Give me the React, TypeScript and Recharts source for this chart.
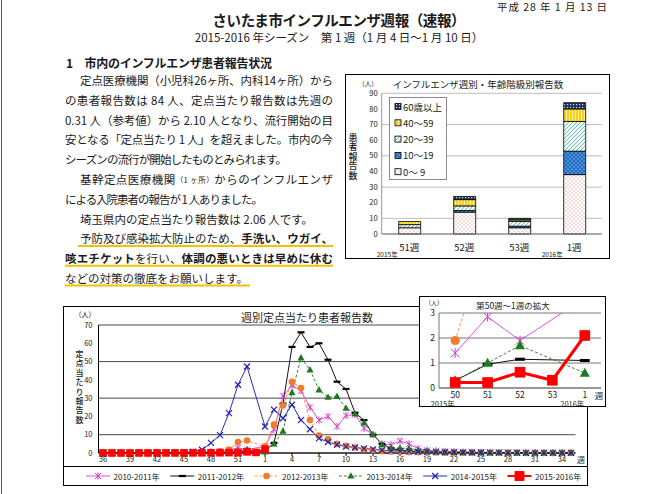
import React from "react";
import { LineChart, Line, XAxis, YAxis, CartesianGrid, BarChart, Bar } from "recharts";

const FONT = '"Noto Sans CJK JP", "Noto Sans", sans-serif';

// 36週〜翌年35週
const weeks = [
  "36", "37", "38", "39", "40", "41", "42", "43", "44", "45", "46", "47", "48", "49", "50", "51", "52", "53",
  "1", "2", "3", "4", "5", "6", "7", "8", "9", "10", "11", "12", "13", "14", "15", "16", "17", "18", "19", "20",
  "21", "22", "23", "24", "25", "26", "27", "28", "29", "30", "31", "32", "33", "34", "35",
];

const season1011 = [
  0.1, 0.1, 0.1, 0.1, 0.1, 0.1, 0.1, 0.2, 0.2, 0.2, 0.3, 0.4, 0.6, 0.9, 1.4, 2.85, 1.9, null,
  3.6, 13, 31, 37, 34, 25, 18, 20, 14.5, 20.5, 21, 13.5, 10, 5, 4.5, 6.5, 5, 2.5, 1.5, 1.2,
  0.9, 0.7, 0.5, 0.4, 0.3, 0.3, 0.2, 0.2, 0.2, 0.1, 0.1, 0.1, 0.1, 0.1, 0.1,
];
const season1112 = [
  0.1, 0.1, 0.1, 0.1, 0.1, 0.1, 0.1, 0.1, 0.1, 0.1, 0.1, 0.1, 0.2, 0.2, 0.3, 0.95, 1.15, null,
  1.1, 5.5, 27, 58, 66, 58, 60, 51, 39, 35, 22, 18, 10, 5, 2.5, 1.5, 1, 0.8, 0.6, 0.5,
  0.4, 0.3, 0.3, 0.2, 0.2, 0.2, 0.1, 0.1, 0.1, 0.1, 0.1, 0.1, 0.1, 0.1, 0.1,
];
const season1213 = [
  0.1, 0.1, 0.1, 0.1, 0.1, 0.1, 0.1, 0.1, 0.1, 0.1, 0.1, 0.3, 0.5, 0.9, 1.9, 6, 6.8, null,
  3.5, 15.5, 26, 39, 35.5, 18, 9.5, 7.5, 5, 4, 3, 2, 1.5, 1, 0.8, 0.6, 0.5, 0.4, 0.3, 0.3,
  0.2, 0.2, 0.2, 0.2, 0.2, 0.1, 0.1, 0.1, 0.1, 0.1, 0.1, 0.1, 0.1, 0.1, 0.1,
];
const season1314 = [
  0.1, 0.1, 0.1, 0.1, 0.1, 0.1, 0.1, 0.1, 0.1, 0.1, 0.1, 0.1, 0.1, 0.2, 0.3, 1.0, 1.7, null,
  0.6, 5, 12, 33, 52, 45.5, 34.5, 30.5, 31, 24.5, 21.5, 16.5, 10, 4.5, 2.7, 2.7, 2.5, 1.5, 1, 0.7,
  0.5, 0.4, 0.3, 0.3, 0.2, 0.2, 0.2, 0.1, 0.1, 0.1, 0.1, 0.1, 0.1, 0.1, 0.1,
];
const season1415 = [
  0.1, 0.1, 0.1, 0.1, 0.1, 0.2, 0.2, 0.2, 0.3, 0.4, 0.7, 1.8, 5.5, 9.8, 21.8, 37.3, 47.3, null,
  14.5, 23.7, 19, 26.4, 18, 13, 8, 6, 4.5, 3.5, 3, 2.5, 2, 1.5, 1.2, 1, 0.9, 0.7, 0.6, 0.5,
  0.4, 0.4, 0.3, 0.3, 0.3, 0.2, 0.2, 0.2, 0.2, 0.1, 0.1, 0.1, 0.1, 0.1, 0.1,
];
const season1516 = [
  0, 0, 0, 0, 0.03, 0, 0.03, 0.03, 0.03, 0.05, 0.05, 0.08, 0.1, 0.13, 0.22, 0.22, 0.63, 0.31,
  2.1, null, null, null, null, null, null, null, null, null, null, null, null, null, null, null, null, null, null, null,
  null, null, null, null, null, null, null, null, null, null, null, null, null, null, null,
];

const mainTicks = [0, 10, 20, 30, 40, 50, 60, 70];
const insetTicks = [0, 1, 2, 3];

// 年齢階級別
const barWeeks = ["51週", "52週", "53週", "1週"];
const barYears = ["2015年", "", "", "2016年"];
const age0to9 = [4, 14, 4, 38];
const age10to19 = [0, 1, 1, 15];
const age20to39 = [2, 3, 3, 19];
const age40to59 = [2, 4, 1, 8];
const age60plus = [0, 2, 1, 4];
const barTicks = [0, 10, 20, 30, 40, 50, 60, 70, 80, 90];

const seriesList = [
  { key: "s1011", name: "2010-2011年", values: season1011, color: "#dd55dd", width: 1, dash: "", marker: "star" },
  { key: "s1112", name: "2011-2012年", values: season1112, color: "#111111", width: 1, dash: "", marker: "dash" },
  { key: "s1213", name: "2012-2013年", values: season1213, color: "#f4a060", width: 1.1, dash: "3 2", marker: "circle" },
  { key: "s1314", name: "2013-2014年", values: season1314, color: "#3a8a3a", width: 1, dash: "3 2", marker: "tri" },
  { key: "s1415", name: "2014-2015年", values: season1415, color: "#2b2bb5", width: 1, dash: "", marker: "x" },
  { key: "s1516", name: "2015-2016年", values: season1516, color: "#ff0000", width: 2, dash: "", marker: "square" },
];

const ageList = [
  { key: "a0", name: "0～ 9", values: age0to9, fill: "url(#pAge0)" },
  { key: "a10", name: "10～19", values: age10to19, fill: "url(#pAge10)" },
  { key: "a20", name: "20～39", values: age20to39, fill: "url(#pAge20)" },
  { key: "a40", name: "40～59", values: age40to59, fill: "url(#pAge40)" },
  { key: "a60", name: "60歳以上", values: age60plus, fill: "url(#pAge60)" },
];

function Marker({ kind, cx, cy, scale = 1 }: { kind: string; cx: number; cy: number; scale?: number }) {
  const r = 3 * scale;
  if (kind === "star")
    return (
      <g stroke="#cc3ccc" strokeWidth={1}>
        <line x1={cx - r} y1={cy - r} x2={cx + r} y2={cy + r} />
        <line x1={cx - r} y1={cy + r} x2={cx + r} y2={cy - r} />
        <line x1={cx} y1={cy - r - 0.6} x2={cx} y2={cy + r + 0.6} />
      </g>
    );
  if (kind === "dash")
    return <rect x={cx - 3.5 * scale} y={cy - 1.1 * scale} width={7 * scale} height={2.2 * scale} fill="#000" />;
  if (kind === "circle") return <circle cx={cx} cy={cy} r={3.3 * scale} fill="#f07a2e" />;
  if (kind === "tri")
    return (
      <polygon
        points={`${cx},${cy - 3.8 * scale} ${cx - 3.6 * scale},${cy + 2.6 * scale} ${cx + 3.6 * scale},${cy + 2.6 * scale}`}
        fill="#1e7a1e"
      />
    );
  if (kind === "x")
    return (
      <g stroke="#2424b0" strokeWidth={1.2}>
        <line x1={cx - r} y1={cy - r} x2={cx + r} y2={cy + r} />
        <line x1={cx - r} y1={cy + r} x2={cx + r} y2={cy - r} />
      </g>
    );
  const h = 3.8 * scale;
  return <rect x={cx - h} y={cy - h} width={2 * h} height={2 * h} fill="#ff0000" />;
}

const dotFor = (kind: string, scale: number) => (p: any) => {
  if (p.cx == null || p.cy == null || p.value == null) return <g key={`n${p.index}`} />;
  return <Marker key={`m${p.index}`} kind={kind} cx={p.cx} cy={p.cy} scale={scale} />;
};

const patternDefs = (
  <defs>
    <pattern id="pAge0" width="4" height="4" patternUnits="userSpaceOnUse">
      <rect width="4" height="4" fill="#fff" />
      <circle cx="1" cy="1" r="0.6" fill="#e06a6a" />
      <circle cx="3" cy="3" r="0.6" fill="#e06a6a" />
    </pattern>
    <pattern id="pAge10" width="4" height="4" patternUnits="userSpaceOnUse">
      <rect width="4" height="4" fill="#1f6cc4" />
      <circle cx="1" cy="1" r="0.6" fill="#fff" />
      <circle cx="3" cy="3" r="0.6" fill="#fff" />
    </pattern>
    <pattern id="pAge20" width="4" height="4" patternUnits="userSpaceOnUse">
      <rect width="4" height="4" fill="#f0fbf7" />
      <path d="M-1,1 l2,-2 M0,4 l4,-4 M3,5 l2,-2" stroke="#5fb8a8" strokeWidth="0.9" />
    </pattern>
    <pattern id="pAge40" width="3" height="3" patternUnits="userSpaceOnUse">
      <rect width="3" height="3" fill="#f7d21c" />
      <rect x="2" width="0.8" height="3" fill="#fff6c0" />
    </pattern>
    <pattern id="pAge60" width="3" height="3" patternUnits="userSpaceOnUse">
      <rect width="3" height="3" fill="#24305e" />
      <rect width="1.2" height="1.2" fill="#cfd6ea" />
    </pattern>
  </defs>
);

const bodyLines: { x: number; end: number; segs: string[][]; under?: number }[] = [
  { x: 80, end: 333, segs: [["定点医療機関（小児科26ヶ所、内科14ヶ所）から"]] },
  { x: 65, end: 333, segs: [["の患者報告数は 84 人、定点当たり報告数は先週の"]] },
  { x: 65, end: 333, segs: [["0.31 人（参考値）から 2.10 人となり、流行開始の目"]] },
  { x: 65, end: 333, segs: [["安となる「定点当たり 1 人」を超えました。市内の今"]] },
  { x: 65, end: 287, segs: [["シーズンの流行が開始したものとみられます。"]] },
  { x: 80, end: 333, segs: [["基幹定点医療機関"], ["（1 ヶ所）", "small"], ["からのインフルエンザ"]] },
  { x: 65, end: 263, segs: [["による入院患者の報告が 1 人ありました。"]] },
  { x: 80, end: 313, segs: [["埼玉県内の定点当たり報告数は 2.06 人です。"]] },
  { x: 80, end: 333, segs: [["予防及び感染拡大防止のため、"], ["手洗い、ウガイ、", "bold"]], under: 78 },
  { x: 65, end: 333, segs: [["咳エチケット", "bold"], ["を行い、"], ["体調の悪いときは早めに休む", "bold"]], under: 65 },
  { x: 65, end: 248, segs: [["などの対策の徹底をお願いします。"]], under: 65 },
];

const BarTick = (props: any) => {
  const { x, y, payload, index } = props;
  const yr = barYears[index];
  return (
    <g fontFamily={FONT}>
      <text x={x} y={y + 16.5} textAnchor="middle" fontSize={9.5} fill="#222">{payload.value}</text>
      {yr ? <text x={x - 22} y={y + 23} textAnchor="middle" fontSize={6.5} fill="#222">{yr}</text> : null}
    </g>
  );
};

const InsetTick = (props: any) => {
  const { x, y, payload, index, visibleTicksCount } = props;
  const yr = index === 0 ? "2015年" : index === (visibleTicksCount ?? 5) - 1 ? "2016年" : "";
  return (
    <g fontFamily={FONT}>
      <text x={x} y={y + 9.5} textAnchor="middle" fontSize={8.5} fill="#222">{payload.value}</text>
      {yr ? <text x={x - 12.5} y={y + 18.5} textAnchor="middle" fontSize={7.5} fill="#222">{yr}</text> : null}
    </g>
  );
};

// 縦書きラベル
const VLabel = ({ text, left, top, size, spacing, weight }: { text: string; left: number; top: number; size: number; spacing: number; weight?: number }) => (
  <div
    style={{
      position: "absolute",
      left,
      top,
      writingMode: "vertical-rl",
      fontSize: size,
      lineHeight: 1,
      letterSpacing: spacing,
      fontWeight: weight ?? 400,
      color: "#1a1a1a",
      whiteSpace: "nowrap",
    }}
  >
    {text}
  </div>
);

export default function App() {
  const lineRows = weeks.map((w, i) => {
    const row: any = { week: w };
    seriesList.forEach((s) => (row[s.key] = s.values[i]));
    return row;
  });
  const insetRows = lineRows.slice(weeks.indexOf("50"), weeks.indexOf("1") + 1);
  const barRows = barWeeks.map((w, i) => {
    const row: any = { week: w };
    ageList.forEach((a) => (row[a.key] = a.values[i]));
    return row;
  });
  const lineY = (i: number) => 80 + i * 19.8;

  return (
    <div style={{ position: "absolute", left: 0, top: 0, width: 670, height: 494, background: "#fff", overflow: "hidden", fontFamily: FONT }}>
      {/* 本文 */}
      <svg width={670} height={494} style={{ position: "absolute", left: 0, top: 0 }} fontFamily={FONT} fill="#1a1a1a">
        <line x1={1.5} y1={0} x2={1.5} y2={494} stroke="#555" />
        <text x={497} y={6} dominantBaseline="central" fontSize={10.5} textLength={110} lengthAdjust="spacing">平成 28 年 1 月 13 日</text>
        <text x={339} y={19} dominantBaseline="central" textAnchor="middle" fontSize={14.5} fontWeight="bold" textLength={253} lengthAdjust="spacing">さいたま市インフルエンザ週報（速報）</text>
        <text x={339} y={37} dominantBaseline="central" textAnchor="middle" fontSize={11.5}>2015-2016 年シーズン　第 1 週（1 月 4 日～1 月 10 日）</text>
        <text x={66} y={62} dominantBaseline="central" fontSize={12} fontWeight="bold" textLength={206} lengthAdjust="spacing">1　市内のインフルエンザ患者報告状況</text>
        {bodyLines.map((ln, i) => (
          <g key={i}>
            {ln.under ? <line x1={ln.under} y1={lineY(i) + 7.5} x2={ln.end + (i === 10 ? 2 : 0)} y2={lineY(i) + 7.5} stroke="#f2c200" strokeWidth={2} /> : null}
            <text x={ln.x} y={lineY(i)} dominantBaseline="central" fontSize={11.5} textLength={ln.end - ln.x} lengthAdjust="spacing">
              {ln.segs.map((sg, j) => (
                <tspan key={j} fontWeight={sg[1] === "bold" ? "bold" : "normal"} fontSize={sg[1] === "small" ? 7.5 : 11.5}>{sg[0]}</tspan>
              ))}
            </text>
          </g>
        ))}
      </svg>

      {/* 年齢階級別報告数 */}
      <div style={{ position: "absolute", left: 345, top: 74, width: 265, height: 185, border: "1px solid #000", boxSizing: "border-box", background: "#fff" }} />
      <div style={{ position: "absolute", left: 345, top: 74 }}>
        <BarChart width={265} height={185} data={barRows} margin={{ top: 19.3, right: 8.3, bottom: 0, left: 6.7 }} barSize={22}>
          {patternDefs}
          <CartesianGrid vertical={false} stroke="#bdbdbd" />
          <XAxis dataKey="week" height={25} tick={<BarTick />} tickSize={0} tickMargin={0} stroke="#777" />
          <YAxis domain={[0, 90]} ticks={barTicks} width={30} tick={{ fontSize: 7.5, fill: "#222" }} tickLine={false} tickSize={2} tickMargin={2} stroke="#999" />
          <YAxis yAxisId="edge" orientation="right" width={0} tick={false} tickLine={false} stroke="#999" />
          {ageList.map((a) => (
            <Bar key={a.key} dataKey={a.key} name={a.name} stackId="age" fill={a.fill} stroke="#000" strokeWidth={0.8} isAnimationActive={false} />
          ))}
        </BarChart>
      </div>
      <div style={{ position: "absolute", left: 389, top: 97, width: 58, height: 83, border: "1px solid #8a8a8a", boxSizing: "border-box", background: "#fff" }}>
        <svg width={56} height={81} fontFamily={FONT}>
          {[...ageList].reverse().map((a, i) => (
            <g key={a.key}>
              <rect x={5} y={5.5 + i * 16.3} width={6} height={6} fill={a.fill} stroke="#000" strokeWidth={0.8} />
              <text x={13} y={8.5 + i * 16.3} dominantBaseline="central" fontSize={9.5} fill="#222">{a.name}</text>
            </g>
          ))}
        </svg>
      </div>

      {/* 週別定点当たり患者報告数 */}
      <div style={{ position: "absolute", left: 63, top: 306, width: 525, height: 180, border: "1px solid #000", boxSizing: "border-box", background: "#fff" }} />
      <div style={{ position: "absolute", left: 63, top: 466, width: 525, height: 20, borderTop: "1px solid #000", boxSizing: "border-box" }} />
      <div style={{ position: "absolute", left: 63, top: 306 }}>
        <LineChart width={525} height={160} data={lineRows} margin={{ top: 19, right: 12.5, bottom: 0, left: 10.5 }}>
          <CartesianGrid vertical={false} stroke="#4a4a4a" />
          <XAxis dataKey="week" interval={2} height={13} padding={{ left: 4.5, right: 4.5 }} tick={{ fontSize: 7.5, fill: "#222" }} tickSize={3} tickMargin={1} stroke="#000" />
          <YAxis domain={[0, 70]} ticks={mainTicks} width={25} tick={{ fontSize: 7.5, fill: "#222" }} tickLine={false} tickSize={4} tickMargin={2} stroke="#000" />
          <YAxis yAxisId="edge" orientation="right" width={0} tick={false} tickLine={false} stroke="#000" />
          {seriesList.map((s) => (
            <Line
              key={s.key}
              type="linear"
              dataKey={s.key}
              name={s.name}
              stroke={s.color}
              strokeWidth={s.width}
              strokeDasharray={s.dash || undefined}
              connectNulls
              dot={dotFor(s.marker, 1)}
              activeDot={false}
              isAnimationActive={false}
            />
          ))}
        </LineChart>
      </div>
      <svg width={525} height={20} style={{ position: "absolute", left: 63, top: 466 }} fontFamily={FONT}>
        {seriesList.map((s, i) => {
          const x0 = 23 + i * 84.3;
          return (
            <g key={s.key}>
              <line x1={x0} y1={10} x2={x0 + 24} y2={10} stroke={s.color} strokeWidth={s.width} strokeDasharray={s.dash || undefined} />
              <Marker kind={s.marker} cx={x0 + 12} cy={10} scale={s.marker === "square" ? 1.3 : 1} />
              <text x={x0 + 27.5} y={10} dominantBaseline="central" fontSize={8} fill="#222">{s.name}</text>
            </g>
          );
        })}
      </svg>

      {/* 第50週～1週の拡大 */}
      <div style={{ position: "absolute", left: 419, top: 296, width: 187, height: 111, border: "1px solid #000", boxSizing: "border-box", background: "#fff" }} />
      <div style={{ position: "absolute", left: 419, top: 296 }}>
        <LineChart width={187} height={111} data={insetRows} margin={{ top: 17, right: 5, bottom: 0, left: 6 }}>
          <CartesianGrid vertical={false} stroke="#777" />
          <XAxis dataKey="week" height={19} padding={{ left: 16.2, right: 16.2 }} tick={<InsetTick />} tickSize={0} tickMargin={0} stroke="#777" />
          <YAxis domain={[0, 3]} ticks={insetTicks} allowDataOverflow width={14} tick={{ fontSize: 8.5, fill: "#222" }} tickLine={false} tickSize={2} tickMargin={2} stroke="#777" />
          <YAxis yAxisId="edge" orientation="right" width={0} tick={false} tickLine={false} stroke="#777" />
          {seriesList.map((s) => (
            <Line
              key={s.key}
              type="linear"
              dataKey={s.key}
              name={s.name}
              stroke={s.color}
              strokeWidth={s.marker === "square" ? 3 : s.width}
              strokeDasharray={s.dash || undefined}
              connectNulls
              dot={dotFor(s.marker, 1.4)}
              activeDot={false}
              isAnimationActive={false}
            />
          ))}
        </LineChart>
      </div>

      {/* グラフ見出し・軸ラベル */}
      <svg width={670} height={494} style={{ position: "absolute", left: 0, top: 0, pointerEvents: "none" }} fontFamily={FONT} fill="#1a1a1a">
        <text x={478} y={84} textAnchor="middle" dominantBaseline="central" fontSize={9.5}>インフルエンザ週別・年齢階級別報告数</text>
        <text x={368} y={83} textAnchor="middle" dominantBaseline="central" fontSize={6.5}>（人）</text>
        <text x={307} y={317} textAnchor="middle" dominantBaseline="central" fontSize={11}>週別定点当たり患者報告数</text>
        <text x={85} y={314} textAnchor="middle" dominantBaseline="central" fontSize={7}>（人）</text>
        <text x={581} y={459} textAnchor="middle" dominantBaseline="central" fontSize={8}>週</text>
        <text x={513} y={305} textAnchor="middle" dominantBaseline="central" fontSize={8.5}>第50週～1週の拡大</text>
        <text x={434} y={302} textAnchor="middle" dominantBaseline="central" fontSize={6}>（人）</text>
        <text x={599} y={395} textAnchor="middle" dominantBaseline="central" fontSize={8.5}>週</text>
      </svg>
      <VLabel text="患者報告数" left={348.5} top={133} size={9} spacing={0.4} weight={500} />
      <VLabel text="定点当たり報告数" left={75} top={350} size={8} spacing={1.4} weight={500} />
    </div>
  );
}
